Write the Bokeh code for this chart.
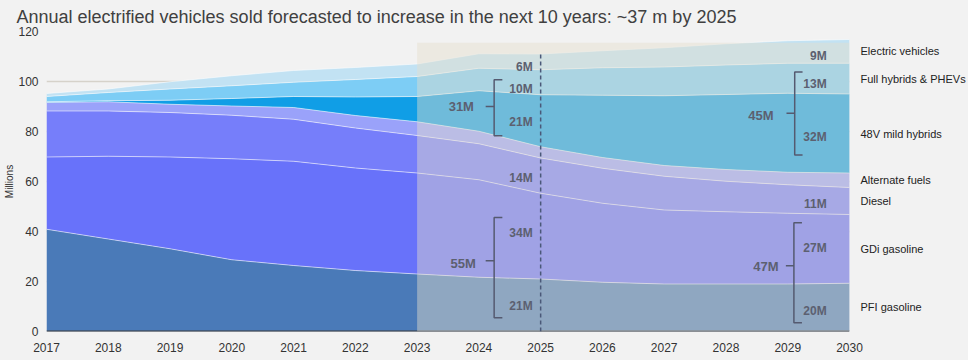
import numpy as np
import pandas as pd
from bokeh.plotting import figure
from bokeh.models import (Range1d, ColumnDataSource, Label, FixedTicker, LinearAxis,
                          GlobalInlineStyleSheet)
from bokeh.embed import file_html
from bokeh.resources import INLINE

# ---- data (millions of vehicles) ----
years = list(range(2017, 2031))
pfi_gasoline = [40.9, 37.0, 33.1, 28.7, 26.4, 24.4, 23.0, 21.7, 21.0, 19.7, 19.0, 19.0, 19.0, 19.3]
gdi_gasoline = [28.9, 33.1, 36.7, 40.4, 41.7, 41.0, 40.4, 39.0, 34.3, 31.6, 29.6, 28.9, 28.3, 27.5]
diesel = [18.4, 18.1, 17.8, 17.4, 16.8, 16.0, 15.0, 14.4, 14.1, 14.0, 13.5, 12.2, 11.4, 10.8]
alternate_fuels = [3.4, 3.7, 3.3, 3.7, 4.7, 5.0, 5.5, 5.0, 4.5, 4.3, 4.3, 4.7, 5.0, 5.8]
mild_hybrids_48v = [0.3, 0.4, 1.6, 3.0, 4.4, 7.4, 10.1, 16.2, 20.8, 24.9, 27.9, 30.0, 31.6, 31.6]
full_hybrids_phevs = [2.1, 3.3, 4.5, 5.1, 5.7, 7.0, 8.0, 9.0, 10.0, 11.0, 11.5, 11.8, 12.0, 12.3]
electric_vehicles = [1.2, 1.4, 2.9, 4.0, 4.7, 4.8, 5.0, 5.8, 6.3, 6.8, 7.7, 8.5, 9.0, 9.5]

series_names = ["PFI gasoline", "GDi gasoline", "Diesel", "Alternate fuels",
                "48V mild hybrids", "Full hybrids & PHEVs", "Electric vehicles"]
series_values = [pfi_gasoline, gdi_gasoline, diesel, alternate_fuels,
                 mild_hybrids_48v, full_hybrids_phevs, electric_vehicles]
series_colors = ["#4a7ab8", "#6872fa", "#767efa", "#9aa2fa", "#109ee6", "#7dcdf5", "#c2e2f3"]

x_ticks = years
y_ticks = [0, 20, 40, 60, 80, 100, 120]
forecast_start = 2023
marker_year = 2025

title_text = "Annual electrified vehicles sold forecasted to increase in the next 10 years: ~37 m by 2025"

# band annotation texts
left_values = ["6M", "10M", "21M", "14M", "34M", "21M"]
left_values_y = [105.9, 97.1, 83.8, 61.3, 39.6, 10.3]
right_values = ["9M", "13M", "32M", "11M", "27M", "20M"]
right_values_y = [110.3, 99.1, 77.8, 50.9, 33.5, 8.2]
group_totals = ["31M", "55M", "45M", "47M"]

# ---- figure ----
bg = "#f2f2f2"
p = figure(width=968, height=360, output_backend="svg", toolbar_location=None,
           x_range=Range1d(2017, 2030), y_range=Range1d(0, 120),
           min_border_left=46, min_border_right=119, min_border_bottom=29, min_border_top=0)
p.background_fill_color = bg
p.border_fill_color = bg
p.outline_line_color = None
p.stylesheets = [GlobalInlineStyleSheet(css="body { background: #f2f2f2; }")]

p.title.text = title_text
p.title.text_font = "Liberation Sans"
p.title.text_font_size = "18px"
p.title.text_font_style = "normal"
p.title.text_color = "#404040"
p.title.offset = -30
p.title.standoff = 9

df = pd.DataFrame({"year": years})
for name, vals in zip(series_names, series_values):
    df[name] = vals
src = ColumnDataSource(df)

p.varea_stack(stackers=series_names, x="year", color=series_colors, source=src)
p.vline_stack(stackers=series_names, x="year", line_color="white", line_alpha=0.55,
              line_width=1, source=src)

# baseline
p.line(x=[years[0], years[-1]], y=[0, 0], line_color="#3a3a3a", line_width=2)

# forecast overlay
p.quad(left=forecast_start, right=years[-1], bottom=0, top=115.5,
       fill_color=(229, 222, 204), fill_alpha=0.45, line_color=None)

# dashed marker at 2025
cum = np.cumsum(np.array(series_values), axis=0)
mi = years.index(marker_year)
p.segment(x0=marker_year, y0=0, x1=marker_year, y1=cum[-1][mi],
          line_color="#4a5878", line_width=1.5, line_dash="4 3")

# brackets
br_col = "#555a70"
brackets = [
    (2024.247, 100.7, 78.3, 90.0, 2024.38, 2024.11),
    (2024.247, 45.6, 5.5, 28.3, 2024.38, 2024.11),
    (2029.113, 103.8, 70.6, 87.3, 2029.24, 2028.98),
    (2029.10, 43.5, 3.5, 26.3, 2029.23, 2028.97),
]
for bx, top, bot, mid, rx, lx in brackets:
    p.line(x=[rx, bx, bx, rx], y=[top, top, bot, bot], line_color=br_col, line_width=1.5)
    p.line(x=[lx, bx], y=[mid, mid], line_color=br_col, line_width=1.5)

lbl_col = "#5c6070"
for t, y in zip(left_values, left_values_y):
    p.add_layout(Label(x=2024.87, y=y, text=t, text_align="right", text_baseline="middle",
                       text_font="Liberation Sans", text_font_style="bold",
                       text_font_size="12px", text_color=lbl_col))
for t, y in zip(right_values, right_values_y):
    p.add_layout(Label(x=2029.63, y=y, text=t, text_align="right", text_baseline="middle",
                       text_font="Liberation Sans", text_font_style="bold",
                       text_font_size="12px", text_color=lbl_col))
for t, x, y in zip(group_totals, [2023.92, 2023.95, 2028.77, 2028.85], [90.2, 27.1, 86.6, 25.9]):
    p.add_layout(Label(x=x, y=y, text=t, text_align="right", text_baseline="middle",
                       text_font="Liberation Sans", text_font_style="bold",
                       text_font_size="13px", text_color=lbl_col))

# series labels on the right: a right axis with ticks at band midpoints of the last year
bottoms = np.vstack([np.zeros(len(years)), cum[:-1]])
mids = [round(float((bottoms[i][-1] + cum[i][-1]) / 2), 2) for i in range(len(series_names))]
right_axis = LinearAxis(ticker=FixedTicker(ticks=mids),
                        major_label_overrides={m: n for m, n in zip(mids, series_names)})
right_axis.axis_line_color = None
right_axis.major_tick_line_color = None
right_axis.minor_tick_line_color = None
right_axis.major_tick_out = 0
right_axis.major_tick_in = 0
right_axis.major_label_standoff = 11
right_axis.major_label_text_font = "Liberation Sans"
right_axis.major_label_text_font_size = "11px"
right_axis.major_label_text_color = "#222222"
p.add_layout(right_axis, "right")

# axes
p.xaxis[0].ticker = FixedTicker(ticks=x_ticks)
p.yaxis[0].ticker = FixedTicker(ticks=y_ticks)
for ax in (p.xaxis[0], p.yaxis[0]):
    ax.axis_line_color = None
    ax.major_tick_line_color = None
    ax.minor_tick_line_color = None
    ax.major_tick_out = 0
    ax.major_tick_in = 0
    ax.major_label_text_font = "Liberation Sans"
    ax.major_label_text_font_size = "12px"
    ax.major_label_text_color = "#333333"
p.xaxis[0].major_label_standoff = 11
p.xaxis[0].axis_label_standoff = 0
p.yaxis[0].major_label_standoff = 8
p.yaxis[0].axis_label = "Millions"
p.yaxis[0].axis_label_text_font = "Liberation Sans"
p.yaxis[0].axis_label_text_font_size = "10px"
p.yaxis[0].axis_label_text_font_style = "normal"
p.yaxis[0].axis_label_text_color = "#333333"
p.yaxis[0].axis_label_standoff = 0

p.xgrid.grid_line_color = None
p.ygrid.grid_line_color = "#d6d2ca"
p.ygrid.grid_line_width = 1.5

open("out.html", "w").write(file_html(p, INLINE))
